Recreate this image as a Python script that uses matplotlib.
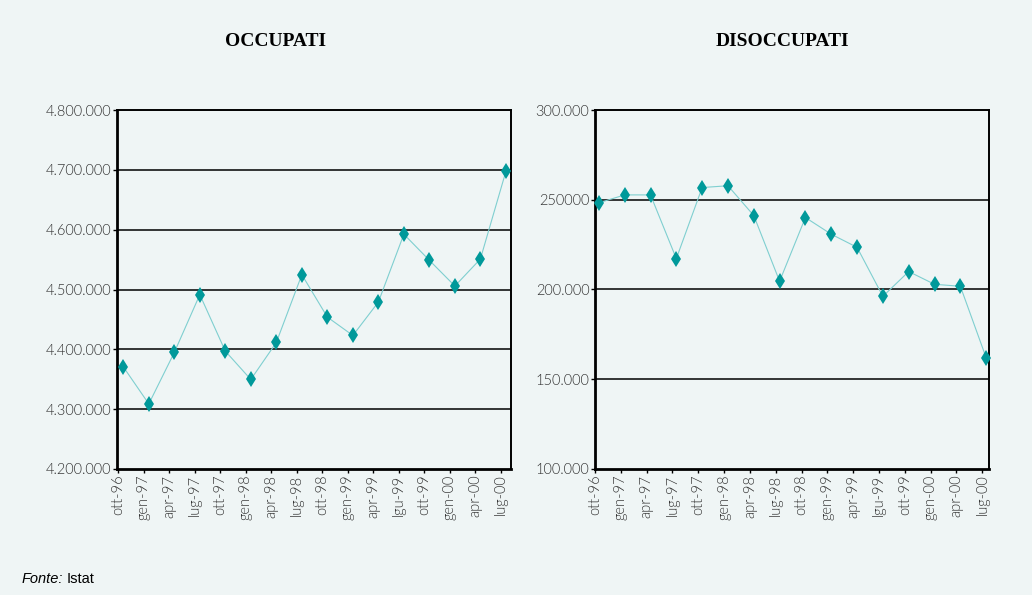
import matplotlib
matplotlib.use("Agg")
import matplotlib.pyplot as plt

# ---- data ----
categories_occ = ["ott-96", "gen-97", "apr-97", "lug-97", "ott-97", "gen-98", "apr-98", "lug-98",
                  "ott-98", "gen-99", "apr-99", "lgu-99", "ott-99", "gen-00", "apr-00", "lug-00"]
categories_dis = ["ott-96", "gen-97", "apr-97", "lug-97", "ott-97", "gen-98", "apr-98", "lug-98",
                  "ott-98", "gen-99", "apr-99", "lgu-99", "ott-99", "gen-00", "apr-00", "lug-00"]
occupati = [4370800, 4308800, 4394800, 4491400, 4397000, 4349600, 4411500, 4524800,
            4453900, 4423200, 4479000, 4592400, 4548800, 4505800, 4551000, 4697400]
disoccupati = [248300, 252700, 252700, 217200, 256800, 257800, 241200, 204600,
               240100, 230800, 223500, 196200, 210000, 202900, 201800, 162000]
occ_yticks = [4200000, 4300000, 4400000, 4500000, 4600000, 4700000, 4800000]
occ_yticklabels = ["4.200.000", "4.300.000", "4.400.000", "4.500.000", "4.600.000", "4.700.000", "4.800.000"]
dis_yticks = [100000, 150000, 200000, 250000, 300000]
dis_yticklabels = ["100.000", "150.000", "200.000", "250000", "300.000"]
titles = ["OCCUPATI", "DISOCCUPATI"]

BG = "#eff5f5"
LINE = "#7fcfd0"
MARK = "#00999a"
TXT = "#333333"

fig = plt.figure(figsize=(10.32, 5.95), dpi=100, facecolor=BG)

ax1 = fig.add_axes([117/1032, 1-469/595, 394/1032, 359/595])
ax2 = fig.add_axes([595/1032, 1-469/595, 394/1032, 359/595])


def style(ax, cats, vals, yticks, ylabels, xlim, tick_off):
    ax.set_facecolor(BG)
    x = list(range(len(cats)))
    ax.plot(x, vals, color=LINE, lw=0.8, zorder=3)
    ax.plot(x, vals, linestyle="none", marker="d", markersize=8.5, color=MARK,
            markeredgewidth=0, zorder=4, clip_on=False)
    ax.set_ylim(yticks[0], yticks[-1])
    ax.set_xlim(*xlim)
    ax.set_yticks(yticks)
    ax.set_yticklabels(ylabels, fontfamily="Lato", fontweight=300, fontsize=10.5, color=TXT)
    ax.set_xticks([i - tick_off for i in x])
    ax.set_xticklabels(cats, rotation=90, fontfamily="Lato", fontweight=300, fontsize=10.5, color=TXT)
    for yv in yticks[1:-1]:
        ax.axhline(yv, color="black", lw=1.1, zorder=2)
    for side in ["left", "bottom"]:
        ax.spines[side].set_linewidth(2.0)
    for side in ["top", "right"]:
        ax.spines[side].set_linewidth(1.4)
    ax.tick_params(axis="both", direction="out", length=3, width=1, pad=1, color="black")


style(ax1, categories_occ, occupati, occ_yticks, occ_yticklabels, (-0.247, 15.2), 0.2)
style(ax2, categories_dis, disoccupati, dis_yticks, dis_yticklabels, (-0.104, 15.11), 0.15)

fig.text(275/1032, 1-42/595, titles[0], ha="center", va="center", fontfamily="Liberation Serif",
         fontweight="bold", fontsize=14, color="black")
fig.text(782/1032, 1-42/595, titles[1], ha="center", va="center", fontfamily="Liberation Serif",
         fontweight="bold", fontsize=14, color="black")

t = fig.text(22/1032, 1-579/595, "Fonte:", ha="left", va="center", fontfamily="Liberation Sans",
             fontstyle="italic", fontsize=10.5, color="black")
fig.canvas.draw()
bb = t.get_window_extent(renderer=fig.canvas.get_renderer())
fig.text((bb.x1 + 3) / fig.bbox.width, 1-579/595, "Istat", ha="left", va="center",
         fontfamily="Liberation Sans", fontsize=10.5, color="black")

fig.savefig("out.png", dpi=100, facecolor=BG)
